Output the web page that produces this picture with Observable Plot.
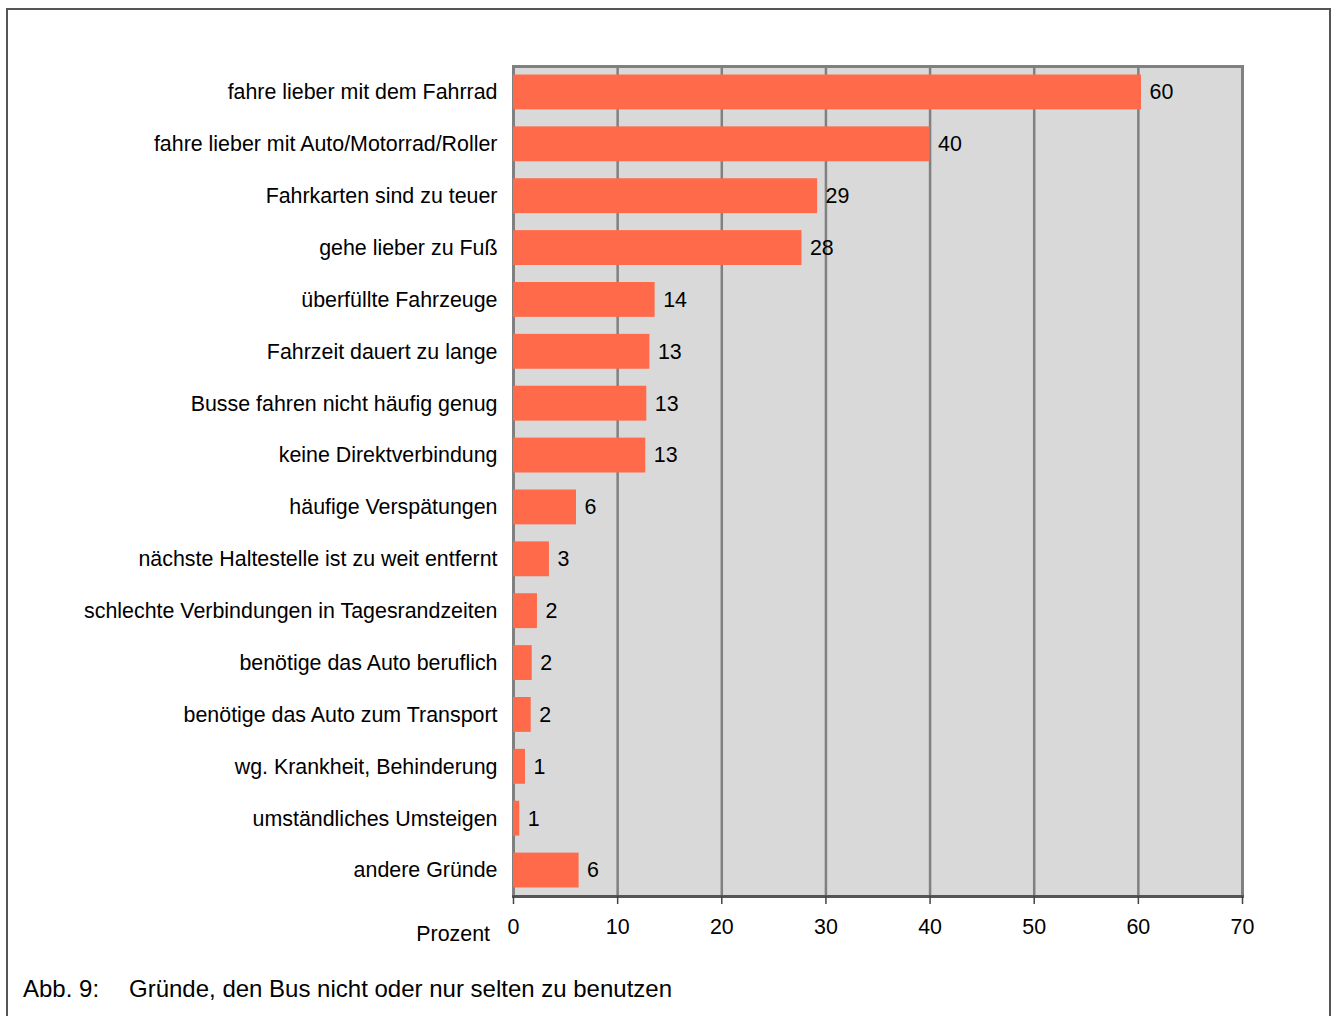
<!DOCTYPE html>
<html><head><meta charset="utf-8">
<script src="https://cdn.jsdelivr.net/npm/d3@7"></script>
<script src="https://cdn.jsdelivr.net/npm/@observablehq/plot@0.6"></script>
<style>
html,body{margin:0;padding:0;width:1336px;height:1016px;overflow:hidden;background:#fff;font-family:"Liberation Sans",Arial,Helvetica,sans-serif;}
#frame{position:absolute;left:6px;top:8px;width:1325px;height:1100px;border:2px solid #555;box-sizing:border-box;}
#chart{position:absolute;left:0;top:0;}
#caption{position:absolute;left:23px;top:975px;font-size:24px;line-height:28px;color:#000;white-space:nowrap;}
#caption .num{display:inline-block;width:106px;}
</style>
</head><body>
<div id="frame"></div>
<div id="chart"></div>
<div id="caption"><span class="num">Abb. 9:</span>Gründe, den Bus nicht oder nur selten zu benutzen</div>
<script>
const reasons = [
  "fahre lieber mit dem Fahrrad",
  "fahre lieber mit Auto/Motorrad/Roller",
  "Fahrkarten sind zu teuer",
  "gehe lieber zu Fuß",
  "überfüllte Fahrzeuge",
  "Fahrzeit dauert zu lange",
  "Busse fahren nicht häufig genug",
  "keine Direktverbindung",
  "häufige Verspätungen",
  "nächste Haltestelle ist zu weit entfernt",
  "schlechte Verbindungen in Tagesrandzeiten",
  "benötige das Auto beruflich",
  "benötige das Auto zum Transport",
  "wg. Krankheit, Behinderung",
  "umständliches Umsteigen",
  "andere Gründe"
];
const percent = [60.3, 40.0, 29.2, 27.7, 13.6, 13.1, 12.8, 12.7, 6.05, 3.45, 2.3, 1.8, 1.7, 1.15, 0.6, 6.3];
const labels = ["60", "40", "29", "28", "14", "13", "13", "13", "6", "3", "2", "2", "2", "1", "1", "6"];
const xTicks = [0, 10, 20, 30, 40, 50, 60, 70];
const axisTitle = "Prozent";

const data = reasons.map((r, i) => ({reason: r, value: percent[i], label: labels[i]}));

const chart = Plot.plot({
  width: 1336,
  height: 960,
  marginLeft: 513,
  marginRight: 94,
  marginTop: 66,
  marginBottom: 64,
  style: {fontFamily: "Liberation Sans, Arial, Helvetica, sans-serif", fontSize: "21.4px", color: "#000", background: "transparent", overflow: "visible"},
  x: {domain: [0, 70], label: null},
  y: {domain: reasons, padding: 0, round: false, label: null},
  marks: [
    Plot.frame({fill: "#d9d9d9", stroke: null}),
    Plot.gridX(xTicks, {stroke: "#808080", strokeWidth: 2.5, strokeOpacity: 1}),
    Plot.frame({stroke: "#808080", strokeWidth: 3, fill: "none"}),
    Plot.barX(data, {x: "value", y: "reason", fill: "#ff6a4a", insetTop: 8.5, insetBottom: 8.5}),
    Plot.text(data, {x: "value", y: "reason", text: "label", dx: 8, textAnchor: "start", fill: "#000", fontSize: 21.4}),
    Plot.axisY({tickSize: 0, tickPadding: 16, fontSize: 21.4, label: null, fill: "#000"}),
    Plot.frame({anchor: "bottom", stroke: "#555", strokeWidth: 3}),
    Plot.axisX(xTicks, {tickSize: 8, tickPadding: 14, stroke: "#444", strokeWidth: 1.5, fontSize: 21.4, label: null, fill: "#000"})
  ]
});
document.getElementById("chart").appendChild(chart);

const xs = chart.scale("x");
d3.select(chart).append("text")
  .attr("x", xs.apply(0) - 23)
  .attr("y", 941)
  .attr("text-anchor", "end")
  .attr("font-size", 21.4)
  .attr("fill", "#000")
  .text(axisTitle);
</script>
</body></html>
